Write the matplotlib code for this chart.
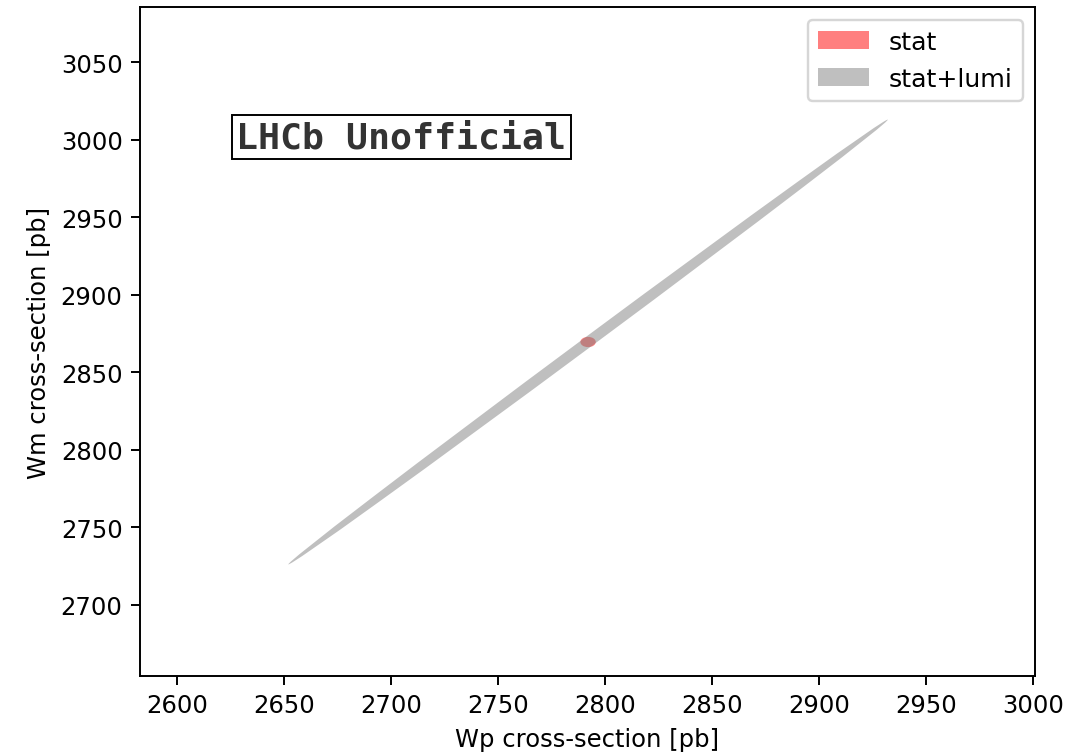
import numpy as np
import matplotlib
matplotlib.use("Agg")
import matplotlib.pyplot as plt
from matplotlib.patches import Ellipse

# fit results (pb)
centre = [2792.0, 2869.5]
stat_sigma = [3.6, 3.3]
stat_corr = 0.0
tot_sigma = [140.0, 143.5]
tot_corr = 0.99955


def cov_ellipse(mu, sig, rho, **kw):
    cov = np.array([[sig[0] ** 2, rho * sig[0] * sig[1]],
                    [rho * sig[0] * sig[1], sig[1] ** 2]])
    vals, vecs = np.linalg.eigh(cov)
    order = vals.argsort()[::-1]
    vals, vecs = vals[order], vecs[:, order]
    angle = np.degrees(np.arctan2(vecs[1, 0], vecs[0, 0]))
    return Ellipse(mu, 2 * np.sqrt(vals[0]), 2 * np.sqrt(vals[1]), angle=angle, **kw)


fig = plt.figure(figsize=(1082 / 175, 753 / 175), dpi=175)
ax = fig.add_axes([0.129, 0.101, 0.828, 0.888])

ax.add_patch(cov_ellipse(centre, stat_sigma, stat_corr, color='red', alpha=0.5, lw=0, label='stat'))
ax.add_patch(cov_ellipse(centre, tot_sigma, tot_corr, color='grey', alpha=0.5, lw=0, label='stat+lumi'))

ax.set_xlim(2582.5, 3001)
ax.set_ylim(2654, 3085.5)
ax.set_xlabel('Wp cross-section [pb]')
ax.set_ylabel('Wm cross-section [pb]')
ax.legend(loc='upper right', fontsize=10.4)

ax.text(0.108, 0.806, 'LHCb Unofficial', transform=ax.transAxes, family='DejaVu Sans Mono',
        fontweight='bold', fontsize=15, color='#333333', va='center', ha='left',
        bbox=dict(facecolor='white', edgecolor='black', pad=2, lw=0.8))

fig.savefig('out.png', dpi=175)
